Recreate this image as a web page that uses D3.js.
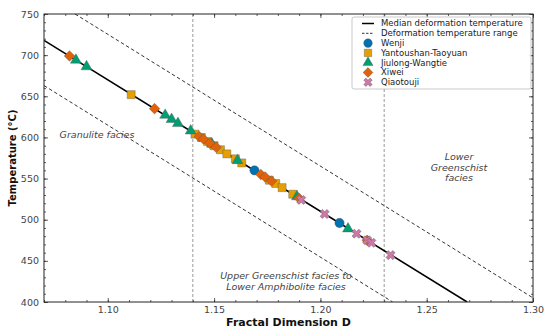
<!DOCTYPE html>
<html><head><meta charset="utf-8">
<script src="https://cdn.jsdelivr.net/npm/d3@7"></script>
<style>body{margin:0;background:#fff}svg{display:block}</style>
</head><body>
<svg id="c" width="550" height="327"></svg>
<script>
// ---- data ----
const xTicks = [1.10, 1.15, 1.20, 1.25, 1.30];
const yTicks = [400, 450, 500, 550, 600, 650, 700, 750];
const medianLine = [[1.07, 718], [1.269, 400]];
const upperLine = [[1.0846, 750], [1.30, 405]];
const lowerLine = [[1.07, 663], [1.234, 400]];
const boundaries = [1.14, 1.23];

const wenjiD = [1.169, 1.209];
const wenjiT = [560, 496];
const yantouD = [1.111, 1.141, 1.144, 1.147, 1.150, 1.153, 1.156, 1.160, 1.163, 1.176, 1.179, 1.182, 1.187];
const yantouT = [652, 604, 600, 595, 590, 585, 580, 574, 569, 548, 544, 539, 531];
const jiulongD = [1.085, 1.090, 1.127, 1.130, 1.133, 1.139, 1.149, 1.161, 1.189, 1.213];
const jiulongT = [694, 686, 627, 622, 617, 608, 592, 572, 528, 489];
const xiweiD = [1.082, 1.122, 1.143, 1.145, 1.148, 1.151, 1.172, 1.174, 1.177, 1.190, 1.222];
const xiweiT = [699, 635, 601, 598, 593, 588, 555, 552, 547, 526, 475];
const qiaoD = [1.191, 1.202, 1.217, 1.222, 1.224, 1.233];
const qiaoT = [524, 507, 483, 475, 472, 457];

const series = [
  {name: "Wenji", d: wenjiD, t: wenjiT, color: "#0072B2", sym: d3.symbolCircle, size: 68, rot: 0},
  {name: "Yantoushan-Taoyuan", d: yantouD, t: yantouT, color: "#E69F00", sym: d3.symbolSquare, size: 64, rot: 0},
  {name: "Jiulong-Wangtie", d: jiulongD, t: jiulongT, color: "#009E73", sym: d3.symbolTriangle, size: 52, rot: 0},
  {name: "Xiwei", d: xiweiD, t: xiweiT, color: "#E2620A", sym: d3.symbolSquare, size: 56, rot: 45},
  {name: "Qiaotouji", d: qiaoD, t: qiaoT, color: "#CC79A7", sym: d3.symbolCross, size: 52, rot: 45}
];

// ---- layout ----
const L = 44, R = 533, T = 14, B = 302;
const svg = d3.select("#c");
const x = d3.scaleLinear().domain([1.07, 1.30]).range([L, R]);
const y = d3.scaleLinear().domain([400, 750]).range([B, T]);
const font = "'DejaVu Sans', sans-serif";

svg.append("defs").append("clipPath").attr("id", "clip")
  .append("rect").attr("x", L).attr("y", T).attr("width", R - L).attr("height", B - T);

const plot = svg.append("g").attr("clip-path", "url(#clip)");

// vertical boundaries
plot.selectAll(".vb").data(boundaries).join("line")
  .attr("x1", d => x(d)).attr("x2", d => x(d)).attr("y1", T).attr("y2", B)
  .attr("stroke", "#999").attr("stroke-width", 1).attr("stroke-dasharray", "3,2");

const lg = d3.line().x(d => x(d[0])).y(d => y(d[1]));
plot.append("path").attr("d", lg(upperLine)).attr("fill", "none").attr("stroke", "#333").attr("stroke-width", 1).attr("stroke-dasharray", "3.5,2.5");
plot.append("path").attr("d", lg(lowerLine)).attr("fill", "none").attr("stroke", "#333").attr("stroke-width", 1).attr("stroke-dasharray", "3.5,2.5");
plot.append("path").attr("d", lg(medianLine)).attr("fill", "none").attr("stroke", "#000").attr("stroke-width", 1.6);

// annotations
const ann = svg.append("g").attr("font-family", font).attr("font-style", "italic").attr("font-size", "9.5px").attr("fill", "#444").attr("text-anchor", "middle");
ann.append("text").attr("x", 97).attr("y", 138).text("Granulite facies");
[["Lower", 160], ["Greenschist", 170.5], ["facies", 181]].forEach(([s, yy]) => ann.append("text").attr("x", 459).attr("y", yy).text(s));
ann.append("text").attr("x", 286).attr("y", 279).text("Upper Greenschist facies to");
ann.append("text").attr("x", 286).attr("y", 290).text("Lower Amphibolite facies");

// points
series.forEach(s => {
  const g = plot.append("g");
  const sy = d3.symbol().type(s.sym).size(s.size);
  g.selectAll("path").data(s.d.map((d, i) => [d, s.t[i]])).join("path")
    .attr("d", sy)
    .attr("transform", d => `translate(${x(d[0])},${y(d[1])}) rotate(${s.rot})`)
    .attr("fill", s.color).attr("stroke", "#555").attr("stroke-width", 0.4);
});

// axes (inward ticks)
const axG = svg.append("g").attr("font-family", font);
function styl(g, labels) {
  g.select(".domain").remove();
  g.selectAll("line").attr("stroke", "#333").attr("stroke-width", 0.8);
  g.selectAll("text").attr("font-family", font).attr("font-size", "9.5px").attr("fill", "#444");
  if (!labels) g.selectAll("text").remove();
}
const xMinor = d3.range(107, 131).map(v => v / 100);
const yMinor = d3.range(400, 751, 10);
axG.append("g").attr("transform", `translate(0,${B})`).call(d3.axisBottom(x).tickValues(xMinor).tickSize(-2).tickFormat("")).call(g => styl(g, false));
axG.append("g").attr("transform", `translate(0,${B})`).call(d3.axisBottom(x).tickValues(xTicks).tickSize(-4).tickPadding(4).tickFormat(d3.format(".2f"))).call(g => styl(g, true));
axG.append("g").attr("transform", `translate(0,${T})`).call(d3.axisTop(x).tickValues(xMinor).tickSize(-2).tickFormat("")).call(g => styl(g, false));
axG.append("g").attr("transform", `translate(0,${T})`).call(d3.axisTop(x).tickValues(xTicks).tickSize(-4).tickFormat("")).call(g => styl(g, false));
axG.append("g").attr("transform", `translate(${L},0)`).call(d3.axisLeft(y).tickValues(yMinor).tickSize(-2).tickFormat("")).call(g => styl(g, false));
axG.append("g").attr("transform", `translate(${L},0)`).call(d3.axisLeft(y).tickValues(yTicks).tickSize(-4).tickPadding(5)).call(g => styl(g, true));
axG.append("g").attr("transform", `translate(${R},0)`).call(d3.axisRight(y).tickValues(yMinor).tickSize(-2).tickFormat("")).call(g => styl(g, false));
axG.append("g").attr("transform", `translate(${R},0)`).call(d3.axisRight(y).tickValues(yTicks).tickSize(-4).tickFormat("")).call(g => styl(g, false));

svg.append("rect").attr("x", L).attr("y", T).attr("width", R - L).attr("height", B - T)
  .attr("fill", "none").attr("stroke", "#222").attr("stroke-width", 1);

// axis titles
svg.append("text").attr("x", (L + R) / 2).attr("y", 325.5).attr("text-anchor", "middle")
  .attr("font-family", font).attr("font-weight", "bold").attr("font-size", "11px").attr("fill", "#111").text("Fractal Dimension D");
svg.append("text").attr("transform", `translate(16,${(T + B) / 2}) rotate(-90)`).attr("text-anchor", "middle")
  .attr("font-family", font).attr("font-weight", "bold").attr("font-size", "10px").attr("fill", "#111").text("Temperature (°C)");

// legend
const lgX = 352, lgY = 17, lgW = 179, lgH = 72;
const leg = svg.append("g").attr("font-family", font).attr("font-size", "8.5px").attr("fill", "#222");
leg.append("rect").attr("x", lgX).attr("y", lgY).attr("width", lgW).attr("height", lgH).attr("rx", 2)
  .attr("fill", "#fff").attr("fill-opacity", 0.85).attr("stroke", "#bbb").attr("stroke-width", 0.8);
const rowY = i => lgY + 6.5 + i * 9.8;
leg.append("line").attr("x1", 362).attr("x2", 374).attr("y1", rowY(0)).attr("y2", rowY(0)).attr("stroke", "#000").attr("stroke-width", 1.5);
leg.append("line").attr("x1", 362).attr("x2", 374).attr("y1", rowY(1)).attr("y2", rowY(1)).attr("stroke", "#333").attr("stroke-width", 1).attr("stroke-dasharray", "2.5,1.5");
const legNames = ["Median deformation temperature", "Deformation temperature range"].concat(series.map(s => s.name));
legNames.forEach((n, i) => leg.append("text").attr("x", 381).attr("y", rowY(i)).attr("dy", "0.35em").text(n));
series.forEach((s, i) => {
  leg.append("path").attr("d", d3.symbol().type(s.sym).size(s.size * 0.85))
    .attr("transform", `translate(368,${rowY(i + 2)}) rotate(${s.rot})`)
    .attr("fill", s.color).attr("stroke", "#555").attr("stroke-width", 0.4);
});
</script>
</body></html>
